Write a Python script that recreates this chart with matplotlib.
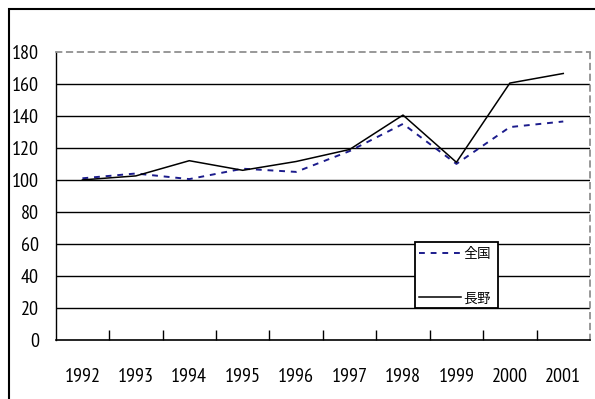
import matplotlib
matplotlib.use('Agg')
import matplotlib.pyplot as plt
from matplotlib.patches import Rectangle

years = ['1992', '1993', '1994', '1995', '1996', '1997', '1998', '1999', '2000', '2001']
zenkoku = [101, 104, 100.5, 107, 105, 118, 135, 110, 133, 136.5]
nagano = [100, 102.5, 112, 106, 111.5, 119, 140.5, 111, 160.5, 166.5]
y_ticks = [0, 20, 40, 60, 80, 100, 120, 140, 160, 180]

num_font = ['PT Sans Narrow', 'DejaVu Sans']
jp_font = ['IPAGothic', 'Noto Sans CJK JP', 'DejaVu Sans']

fig = plt.figure(figsize=(5.95, 3.99), dpi=100)

# outer frame, only top and left edges fall inside the image
fig.patches.append(Rectangle((9 / 595, -0.2), 1.2, 1.2 - 9 / 399,
                             transform=fig.transFigure, fill=False,
                             edgecolor='black', linewidth=1.5))

ax = fig.add_axes([0.0936, 0.148, 0.898, 0.722])

x = range(len(years))
ax.plot(x, zenkoku, color='#1c1c8c', linestyle=(0, (3, 3)), linewidth=1.4, label='全国')
ax.plot(x, nagano, color='black', linewidth=1.1, label='長野')

ax.set_xlim(-0.5, len(years) - 0.5)
ax.set_ylim(0, 180)

# horizontal gridlines drawn as plain black rules
for v in y_ticks[1:-1]:
    ax.axhline(v, color='black', linewidth=1.0, zorder=0.5)

ax.set_yticks(y_ticks)
ax.set_yticklabels([str(v) for v in y_ticks], family=num_font, fontsize=14.5)
ax.tick_params(axis='y', length=0, pad=12)

ax.set_xticks([i + 0.5 for i in range(len(years) - 1)])
ax.set_xticklabels([])
ax.set_xticks(list(x), minor=True)
ax.set_xticklabels(years, minor=True, family=num_font, fontsize=14.5)
ax.tick_params(axis='x', which='major', direction='in', length=7, width=1, color='black')
ax.tick_params(axis='x', which='minor', length=0, pad=20)

ax.spines['left'].set_color('black')
ax.spines['left'].set_linewidth(1.0)
ax.spines['bottom'].set_color('black')
ax.spines['bottom'].set_linewidth(1.2)
for side in ('top', 'right'):
    ax.spines[side].set_color('#909090')
    ax.spines[side].set_linestyle((0, (3, 3)))
    ax.spines[side].set_linewidth(1.3)

leg = ax.legend(loc='lower left', bbox_to_anchor=(0.6725, 0.112, 0.155, 0.25),
                mode='expand', prop={'family': jp_font, 'size': 10},
                frameon=True, fancybox=False, edgecolor='black', framealpha=1,
                handlelength=3.0, handletextpad=0.2, labelspacing=2.3,
                borderpad=0.3, borderaxespad=0)
leg.get_frame().set_linewidth(1.3)

fig.savefig('out.png', dpi=100)
